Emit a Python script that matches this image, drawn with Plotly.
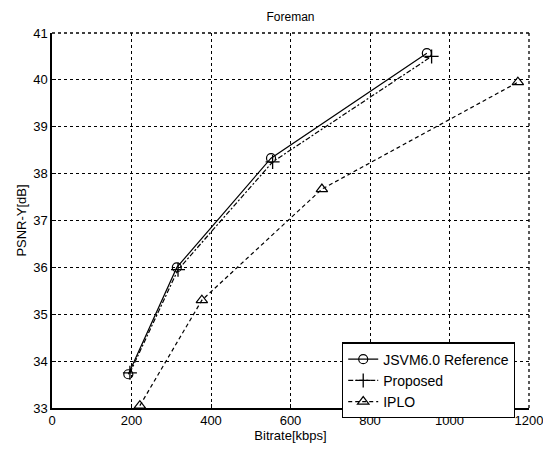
import plotly.graph_objects as go

jsvm_x = [192, 314, 551, 943]
jsvm_y = [33.72, 36.0, 38.33, 40.57]
prop_x = [196, 317, 555, 955]
prop_y = [33.75, 35.95, 38.25, 40.5]
iplo_x = [221, 377, 679, 1172]
iplo_y = [33.05, 35.3, 37.67, 39.95]

x_ticks = [0, 200, 400, 600, 800, 1000, 1200]
y_ticks = [33, 34, 35, 36, 37, 38, 39, 40, 41]

FONT = "Liberation Sans, Arial, sans-serif"

fig = go.Figure()
fig.add_trace(go.Scatter(x=jsvm_x, y=jsvm_y, name="JSVM6.0 Reference", mode="lines+markers",
                         line=dict(color="black", width=1.2),
                         marker=dict(symbol="circle-open", size=9, color="black", line=dict(width=1.2))))
fig.add_trace(go.Scatter(x=prop_x, y=prop_y, name="Proposed", mode="lines+markers",
                         line=dict(color="black", width=1.2, dash="5px,2px,2px,2px"),
                         marker=dict(symbol="cross-thin-open", size=10, color="black", line=dict(width=1.3, color="black"))))
fig.add_trace(go.Scatter(x=iplo_x, y=iplo_y, name="IPLO", mode="lines+markers",
                         line=dict(color="black", width=1.2, dash="4px,3px"),
                         marker=dict(symbol="triangle-up-open", size=10, color="black", line=dict(width=1.2))))

axis_common = dict(showgrid=True, gridcolor="black", gridwidth=1.3, griddash="3px,3px",
                   showline=True, linecolor="black", linewidth=1.5, mirror=False,
                   ticks="inside", ticklen=4, tickcolor="black",
                   tickfont=dict(family=FONT, size=13, color="black"),
                   ticklabeloverflow="allow",
                   zeroline=False, automargin=False)

fig.update_xaxes(range=[0, 1200], tickvals=x_ticks, ticktext=[str(v) for v in x_ticks],
                 title=dict(text="Bitrate[kbps]", font=dict(family=FONT, size=13, color="black"), standoff=2),
                 **axis_common)
fig.update_yaxes(range=[33, 41], tickvals=y_ticks, ticktext=[str(v) for v in y_ticks],
                 title=dict(text="PSNR-Y[dB]", font=dict(family=FONT, size=13, color="black"), standoff=4),
                 **axis_common)

# dotted top/right frame
fig.add_shape(type="line", xref="paper", yref="paper", x0=0, x1=1, y0=1, y1=1,
              line=dict(color="black", width=1.3, dash="3px,3px"))
fig.add_shape(type="line", xref="paper", yref="paper", x0=1, x1=1, y0=0, y1=1,
              line=dict(color="black", width=1.3, dash="3px,3px"))

fig.update_layout(
    width=543, height=449,
    margin=dict(l=52, r=14, t=33, b=41, autoexpand=False),
    paper_bgcolor="white", plot_bgcolor="white",
    title=dict(text="Foreman", x=0.535, xanchor="center", y=0.962, yanchor="middle",
               font=dict(family=FONT, size=12, color="black")),
    showlegend=True,
    legend=dict(x=0.608, y=0.175, xanchor="left", yanchor="top",
                bgcolor="white", bordercolor="black", borderwidth=1.2,
                font=dict(family=FONT, size=14, color="black"),
                tracegroupgap=0, itemwidth=30),
)

fig.write_html("out.html", config={"displayModeBar": False},
               post_script="document.body.style.margin='0';document.body.style.overflow='hidden';")
